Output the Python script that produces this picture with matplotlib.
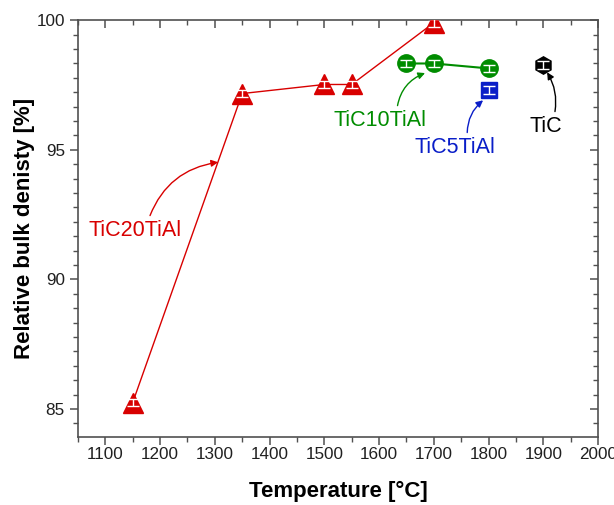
import matplotlib.pyplot as plt
from matplotlib.ticker import MultipleLocator, AutoMinorLocator

plt.rcParams['font.family'] = ['Liberation Sans', 'DejaVu Sans']

# data
t20 = [1150, 1350, 1500, 1550, 1700]
d20 = [85.25, 97.17, 97.52, 97.52, 99.9]
e20 = [0.15, 0.15, 0.15, 0.15, 0.15]

t10 = [1650, 1700, 1800]
d10 = [98.33, 98.33, 98.14]
e10 = [0.15, 0.15, 0.15]

t5 = [1800]
d5 = [97.3]
e5 = [0.15]

t0 = [1900]
d0 = [98.26]
e0 = [0.15]

red = '#D80000'
green = '#008C00'
blue = '#0A1EC8'
black = '#000000'

fig = plt.figure(figsize=(6.14, 5.05), dpi=100)
ax = fig.add_axes([0.127, 0.1347, 0.847, 0.8253])


def series(x, y, err, color, marker, ms, line=True, lw=1.0):
    if line:
        ax.plot(x, y, '-', color=color, lw=lw, zorder=2)
    ax.plot(x, y, linestyle='none', marker=marker, ms=ms, color=color,
            mec=color, zorder=3)
    ax.errorbar(x, y, yerr=err, fmt='none', ecolor='white', elinewidth=1,
                capsize=4, capthick=1, zorder=4)


series(t20, d20, e20, red, '^', 14, lw=1.0)
series(t10, d10, e10, green, 'o', 12.5, lw=1.5)
series(t5, d5, e5, blue, 's', 11, line=False)
series(t0, d0, e0, black, 'h', 12.5, line=False)


def label(text, xy, xytext, color, rad, rx):
    ax.annotate(text, xy=xy, xytext=xytext, color=color, fontsize=15.5,
                ha='center', va='center',
                arrowprops=dict(arrowstyle='-|>', color=color, lw=1,
                                mutation_scale=10, shrinkA=1, shrinkB=0,
                                relpos=(rx, 1.0),
                                connectionstyle='arc3,rad=%s' % rad))


label('TiC20TiAl', (1306, 94.52), (1155, 91.9), red, -0.3, 0.64)
label('TiC10TiAl', (1684, 97.96), (1602, 96.14), green, -0.3, 0.68)
label('TiC5TiAl', (1790, 96.91), (1739, 95.1), blue, -0.25, 0.65)
label('TiC', (1907, 97.99), (1905, 95.91), black, 0.2, 0.75)

ax.set_xlim(1050, 2000)
ax.set_ylim(83.92, 100)
ax.xaxis.set_major_locator(MultipleLocator(100))
ax.xaxis.set_minor_locator(MultipleLocator(50))
ax.yaxis.set_major_locator(MultipleLocator(5))
ax.yaxis.set_minor_locator(AutoMinorLocator(9))

for s in ax.spines.values():
    s.set_color('#505050')
    s.set_linewidth(1.2)

ax.tick_params(which='both', direction='out', colors='#505050',
               labelcolor='#202020', labelsize=12.3, top=False, right=False)
ax.tick_params(which='major', length=6, width=1.1)
ax.tick_params(which='minor', length=3.5, width=1.0)
ax.tick_params(axis='x', which='major', pad=1.5)

# inward ticks on top and right, like the original
axr = ax.secondary_yaxis('right')
axr.yaxis.set_major_locator(MultipleLocator(5))
axr.yaxis.set_minor_locator(AutoMinorLocator(9))
axr.tick_params(which='both', direction='in', colors='#505050', labelright=False)
axr.tick_params(which='major', length=6, width=1.1)
axr.tick_params(which='minor', length=3.5, width=1.0)
axr.spines['right'].set_visible(False)

axt = ax.secondary_xaxis('top')
axt.xaxis.set_major_locator(MultipleLocator(100))
axt.xaxis.set_minor_locator(MultipleLocator(50))
axt.tick_params(which='both', direction='in', colors='#505050', labeltop=False)
axt.tick_params(which='major', length=6, width=1.1)
axt.tick_params(which='minor', length=3.5, width=1.0)
axt.spines['top'].set_visible(False)

ax.set_xlabel('Temperature [°C]', fontsize=16, fontweight='bold', labelpad=13)
ax.set_ylabel('Relative bulk denisty [%]', fontsize=16, fontweight='bold', labelpad=1)

fig.savefig('out.png', dpi=100)
